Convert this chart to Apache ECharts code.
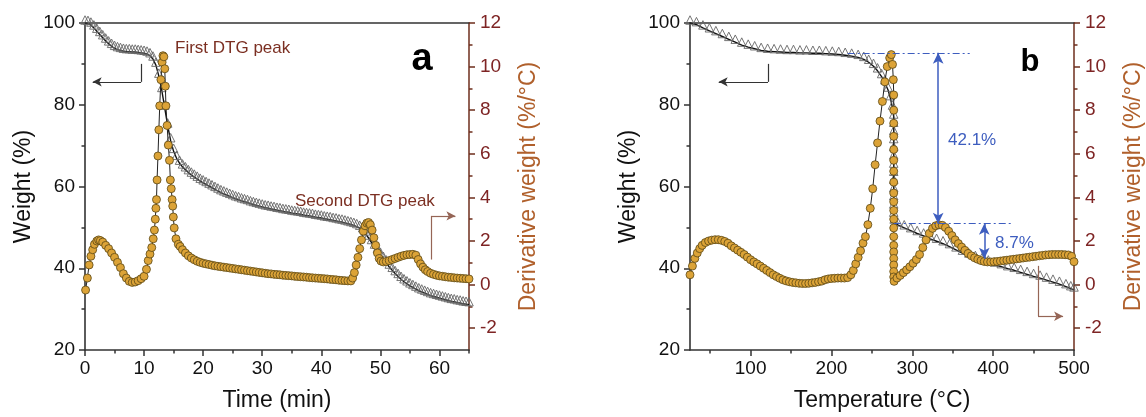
<!DOCTYPE html>
<html><head><meta charset="utf-8">
<script src="https://cdn.jsdelivr.net/npm/echarts@6/dist/echarts.min.js"></script>
<style>html,body{margin:0;padding:0;background:#fff}#c{width:1146px;height:417px}</style>
</head><body><div id="c"></div>
<script>
// ---------- DATA ----------
// Panel a: weight (%) vs time (min)
const tgA = [[0,100.0],[0.5,99.9],[1,99.5],[1.5,98.8],[2,98.0],[2.5,97.2],[3,96.4],[3.5,95.6],[4,94.9],[4.5,94.3],[5,93.8],[5.5,93.5],[6,93.3],[6.5,93.1],[7,93.0],[7.5,93.0],[8,92.9],[8.5,92.9],[9,92.8],[9.5,92.7],[10,92.6],[10.5,92.4],[11,92.0],[11.5,91.2],[12,89.7],[12.5,87.0],[13,83.5],[13.5,79.2],[14,74.8],[14.5,71.2],[15,68.6],[15.5,66.9],[16,65.7],[16.5,64.8],[17,64.1],[17.5,63.4],[18,62.8],[18.5,62.3],[19,61.8],[19.5,61.3],[20,60.9],[20.5,60.5],[21,60.1],[21.5,59.7],[22,59.3],[22.5,58.9],[23,58.5],[23.5,58.2],[24,57.9],[24.5,57.6],[25,57.3],[25.5,57.0],[26,56.8],[26.5,56.5],[27,56.3],[27.5,56.1],[28,55.8],[28.5,55.6],[29,55.4],[29.5,55.2],[30,55.0],[30.5,54.8],[31,54.7],[31.5,54.5],[32,54.4],[32.5,54.2],[33,54.1],[33.5,53.9],[34,53.8],[34.5,53.7],[35,53.5],[35.5,53.4],[36,53.3],[36.5,53.2],[37,53.0],[37.5,52.9],[38,52.8],[38.5,52.7],[39,52.5],[39.5,52.4],[40,52.3],[40.5,52.1],[41,52.0],[41.5,51.9],[42,51.7],[42.5,51.6],[43,51.4],[43.5,51.3],[44,51.1],[44.5,50.9],[45,50.7],[45.5,50.5],[46,50.2],[46.5,49.8],[47,49.2],[47.5,48.4],[48,47.4],[48.5,46.3],[49,45.2],[49.5,44.2],[50,43.2],[50.5,42.2],[51,41.3],[51.5,40.3],[52,39.5],[52.5,38.7],[53,38.0],[53.5,37.3],[54,36.7],[54.5,36.2],[55,35.7],[55.5,35.3],[56,34.9],[56.5,34.5],[57,34.2],[57.5,33.9],[58,33.6],[58.5,33.3],[59,33.1],[59.5,32.9],[60,32.7],[60.5,32.5],[61,32.3],[61.5,32.1],[62,31.9],[62.5,31.8],[63,31.6],[63.5,31.5],[64,31.3],[64.5,31.2],[65,31.1]];
// Panel a: derivative weight (%/°C) vs time (min)
const dtgA = [[0.1,-0.25],[0.4,0.3],[0.7,0.9],[1.0,1.3],[1.3,1.6],[1.6,1.85],[2.0,2.0],[2.3,2.05],[2.6,2.02],[3.0,1.95],[3.5,1.8],[4.0,1.65],[4.5,1.45],[5.0,1.25],[5.5,1.02],[6.0,0.78],[6.5,0.5],[7.0,0.3],[7.5,0.15],[8.0,0.1],[8.5,0.12],[9.0,0.18],[9.5,0.27],[10.0,0.38],[10.4,0.7],[10.7,1.1],[11.0,1.4],[11.3,1.7],[11.55,2.1],[11.75,2.5],[11.9,3.0],[12.0,3.5],[12.1,3.9],[12.2,4.8],[12.35,5.9],[12.5,7.1],[12.65,8.2],[12.85,9.4],[13.05,10.2],[13.2,10.5],[13.35,10.45],[13.5,9.9],[13.6,9.1],[13.7,8.2],[13.9,7.3],[14.1,6.4],[14.3,5.7],[14.45,4.8],[14.6,4.4],[14.75,3.9],[14.85,3.6],[14.95,3.1],[15.1,2.6],[15.4,2.1],[15.8,1.85],[16.1,1.75],[16.5,1.6],[17.0,1.45],[17.5,1.32],[18.0,1.22],[18.5,1.14],[19.0,1.07],[19.5,1.02],[20,0.98],[20.5,0.95],[21,0.92],[21.5,0.89],[22,0.86],[22.5,0.84],[23,0.82],[23.5,0.80],[24,0.78],[24.5,0.76],[25,0.74],[25.5,0.72],[26,0.70],[26.5,0.68],[27,0.66],[27.5,0.64],[28,0.62],[28.5,0.60],[29,0.58],[29.5,0.56],[30,0.54],[30.5,0.52],[31,0.50],[31.5,0.49],[32,0.47],[32.5,0.46],[33,0.45],[33.5,0.43],[34,0.42],[34.5,0.41],[35,0.40],[35.5,0.38],[36,0.37],[36.5,0.36],[37,0.35],[37.5,0.34],[38,0.32],[38.5,0.31],[39,0.30],[39.5,0.29],[40,0.28],[40.5,0.27],[41,0.26],[41.5,0.24],[42,0.23],[42.5,0.22],[43,0.20],[43.5,0.19],[44,0.18],[44.5,0.17],[45,0.17],[45.3,0.3],[45.6,0.55],[45.9,0.9],[46.2,1.25],[46.5,1.65],[46.8,2.05],[47.1,2.45],[47.4,2.7],[47.7,2.82],[48.0,2.85],[48.3,2.75],[48.6,2.5],[48.9,2.15],[49.2,1.8],[49.5,1.45],[49.8,1.2],[50.1,1.08],[50.5,1.04],[51,1.06],[51.5,1.1],[52,1.15],[52.5,1.2],[53,1.25],[53.5,1.3],[54,1.34],[54.5,1.37],[55,1.38],[55.5,1.39],[56,1.35],[56.4,1.15],[56.8,0.95],[57.2,0.8],[57.6,0.68],[58,0.6],[58.5,0.52],[59,0.47],[59.5,0.43],[60,0.40],[60.5,0.38],[61,0.36],[61.5,0.34],[62,0.33],[62.5,0.31],[63,0.30],[63.5,0.29],[64,0.28],[64.5,0.27],[65,0.26]];
// Panel b: weight (%) vs temperature (°C)
const tgB = [[25,100],[33,99.6],[41,98.8],[49,98.1],[57,97.4],[65,96.7],[73,96.0],[81,95.3],[89,94.6],[97,94.1],[105,93.7],[113,93.3],[121,93.1],[129,93.0],[137,92.9],[145,92.8],[153,92.8],[161,92.7],[169,92.7],[177,92.6],[185,92.6],[193,92.5],[201,92.4],[209,92.3],[217,92.1],[225,91.9],[233,91.6],[240,91.1],[246,90.4],[252,89.4],[257,88.3],[262,86.9],[266,85.4],[270,83.6],[273,81.5],[275.5,79.2],[277,77],[277,75],[277,73],[277,71],[277,69],[277,67],[277,65],[277,63],[277,61],[277,59],[277,57],[277,55],[277,53],[277.5,51.3],[282,50.6],[290,49.9],[298,49.2],[306,48.5],[314,47.9],[322,47.2],[330,46.6],[338,46.0],[346,45.3],[354,44.5],[362,43.7],[370,43.0],[378,42.4],[386,41.8],[394,41.3],[402,40.8],[410,40.4],[418,39.9],[426,39.5],[434,39.0],[442,38.5],[450,38.0],[458,37.6],[466,37.1],[474,36.6],[482,36.1],[490,35.5],[496,35.0],[500,34.7]];
// Panel b: derivative weight (%/°C) vs temperature (°C)
const dtgB = [[25,0.45],[28,0.85],[31,1.2],[34,1.45],[37,1.65],[40,1.8],[44,1.93],[48,2.0],[52,2.04],[56,2.06],[60,2.06],[64,2.03],[68,1.98],[72,1.9],[76,1.78],[80,1.68],[84,1.58],[88,1.48],[92,1.38],[96,1.26],[100,1.14],[104,1.04],[108,0.95],[112,0.85],[116,0.75],[120,0.65],[124,0.55],[128,0.45],[132,0.37],[136,0.29],[140,0.22],[144,0.17],[148,0.13],[152,0.1],[156,0.08],[160,0.06],[164,0.05],[168,0.05],[172,0.06],[176,0.08],[180,0.1],[184,0.13],[188,0.16],[192,0.22],[196,0.26],[200,0.28],[204,0.29],[208,0.3],[212,0.3],[216,0.3],[220,0.32],[224,0.45],[227,0.65],[230,0.95],[233,1.25],[236,1.55],[239,1.9],[242,2.2],[245,2.75],[248,3.5],[251,4.4],[254,5.5],[257,6.5],[260,7.5],[263,8.4],[266,9.3],[269,10.0],[272,10.4],[274,10.55],[275.5,10.1],[276.5,9.4],[277,8.7],[277,8.0],[277,7.4],[277,6.8],[277,6.2],[277,5.7],[277,5.2],[277,4.7],[277,4.2],[277,3.8],[277,3.4],[277,3.0],[277,2.6],[277,2.2],[277,1.8],[277,1.5],[277,1.2],[277,0.9],[277,0.6],[277,0.35],[277.5,0.15],[281,0.3],[285,0.42],[289,0.55],[293,0.68],[297,0.82],[301,0.98],[305,1.15],[309,1.38],[313,1.7],[317,2.05],[321,2.35],[325,2.58],[329,2.7],[333,2.74],[337,2.72],[341,2.62],[345,2.45],[349,2.25],[353,2.05],[357,1.88],[361,1.72],[365,1.57],[369,1.43],[373,1.32],[377,1.23],[381,1.16],[385,1.1],[389,1.06],[393,1.04],[397,1.04],[401,1.05],[405,1.06],[409,1.08],[413,1.1],[417,1.12],[421,1.14],[425,1.16],[429,1.18],[433,1.2],[437,1.22],[441,1.24],[445,1.26],[449,1.28],[453,1.3],[457,1.32],[461,1.34],[465,1.36],[469,1.37],[473,1.38],[477,1.38],[481,1.38],[485,1.38],[489,1.37],[493,1.36],[497,1.3],[500,1.05]];

// Tick values
const xMajorA = [0,10,20,30,40,50,60];
const xMinorA = [5,15,25,35,45,55,65];
const xMajorB = [100,200,300,400,500];
const xMinorB = [50,150,250,350,450];
const rMajor = [-2,0,2,4,6,8,10,12];
const rMinor = [-1,1,3,5,7,9,11];

// Annotation values (data units)
const wtTop = 92.7, wtMid = 50.9, wtLow = 42.3;
const lossLabels = ['42.1%','8.7%'];

// ---------- STYLE ----------
const FONT = '"Liberation Sans", Arial, sans-serif';
const AX = '#333333', BR = '#6e2e1c', RLBL = '#7e2424', RTTL = '#b0602c', ANNO = '#7b2f22', BLUE = '#3d5dbf';
const G = [{left:85, top:23, width:384, height:329},{left:690, top:23, width:384, height:329}];

function bottomMajor(grid, min, max, ticks, name){
  return {gridIndex:grid, type:'value', min, max, position:'bottom',
    axisLine:{onZero:false, lineStyle:{color:AX, width:1.6}},
    axisTick:{customValues:ticks, length:6, lineStyle:{color:AX, width:1.5}},
    axisLabel:{customValues:ticks, fontSize:19, color:'#111', margin:9, fontFamily:FONT},
    splitLine:{show:false}, name, nameLocation:'middle', nameGap:39,
    nameTextStyle:{fontSize:23, color:'#111', fontFamily:FONT}};
}
function bottomMinor(grid, min, max, ticks){
  return {gridIndex:grid, type:'value', min, max, position:'bottom',
    axisLine:{show:false, onZero:false}, axisTick:{customValues:ticks, length:3.5, lineStyle:{color:AX, width:1.5}},
    axisLabel:{show:false}, splitLine:{show:false}};
}
function topLine(grid, min, max){
  return {gridIndex:grid, type:'value', min, max, position:'top',
    axisLine:{onZero:false, lineStyle:{color:AX, width:1.6}}, axisTick:{show:false},
    axisLabel:{show:false}, splitLine:{show:false}};
}
function leftAxis(grid){
  return {gridIndex:grid, type:'value', min:20, max:100, interval:20, position:'left',
    axisLine:{show:true, onZero:false, lineStyle:{color:AX, width:1.6}},
    axisTick:{show:true, length:6, lineStyle:{color:AX, width:1.5}},
    minorTick:{show:true, splitNumber:2, length:3.5, lineStyle:{color:AX, width:1.5}},
    axisLabel:{fontSize:19, color:'#111', margin:10, fontFamily:FONT},
    splitLine:{show:false}, minorSplitLine:{show:false},
    name:'Weight (%)', nameLocation:'middle', nameGap:50,
    nameTextStyle:{fontSize:23, color:'#111', fontFamily:FONT}};
}
function rightMajor(grid){
  return {gridIndex:grid, type:'value', min:-3, max:12, position:'right',
    axisLine:{show:true, onZero:false, lineStyle:{color:BR, width:1.5}},
    axisTick:{show:true, customValues:rMajor, length:6, lineStyle:{color:BR, width:1.5}},
    axisLabel:{customValues:rMajor, fontSize:19, color:RLBL, margin:11, fontFamily:FONT},
    splitLine:{show:false},
    name:'Derivative weight (%/°C)', nameLocation:'middle', nameGap:48,
    nameTextStyle:{fontSize:23, color:RTTL, fontFamily:FONT}};
}
function rightMinor(grid){
  return {gridIndex:grid, type:'value', min:-3, max:12, position:'right',
    axisLine:{show:false, onZero:false},
    axisTick:{show:true, customValues:rMinor, length:3.5, lineStyle:{color:BR, width:1.5}},
    axisLabel:{show:false}, splitLine:{show:false}};
}

const tgStyle = {type:'line', symbol:'triangle', symbolSize:8.5, symbolOffset:[0,-3], showAllSymbol:true,
  itemStyle:{color:'rgba(255,255,255,0)', borderColor:'#666666', borderWidth:0.9},
  lineStyle:{color:'#111111', width:1.4}, z:2, silent:true};
const dtgStyle = {type:'line', symbol:'circle', symbolSize:8, showAllSymbol:true,
  itemStyle:{color:'#dca337', borderColor:'#5a4715', borderWidth:0.8},
  lineStyle:{color:'#222', width:1}, z:3, silent:true};

function elbow(x1, y1, y2, x2, color){
  return [
    [{coord:[x1,y1], symbol:'none'},{coord:[x1,y2], symbol:'none', lineStyle:{color, width:1.2, type:'solid'}}],
    [{coord:[x1,y2], symbol:'none'},{coord:[x2,y2], symbol:'arrow', lineStyle:{color, width:1.2, type:'solid'}}]
  ];
}
const mlBase = {silent:true, animation:false, label:{show:false}, symbolSize:[7,9], emphasis:{disabled:true}};

const option = {
  animation:false,
  textStyle:{fontFamily:FONT},
  grid:G,
  xAxis:[
    bottomMajor(0,0,65,xMajorA,'Time (min)'), bottomMinor(0,0,65,xMinorA), topLine(0,0,65),
    bottomMajor(1,25,500,xMajorB,'Temperature (°C)'), bottomMinor(1,25,500,xMinorB), topLine(1,25,500)
  ],
  yAxis:[
    leftAxis(0), rightMajor(0), rightMinor(0),
    leftAxis(1), rightMajor(1), rightMinor(1)
  ],
  series:[
    Object.assign({}, tgStyle, {xAxisIndex:0, yAxisIndex:0, data:tgA,
      markLine:Object.assign({}, mlBase, {data:elbow(9.5,90.0,85.6,1.3,'#333')})}),
    Object.assign({}, dtgStyle, {xAxisIndex:0, yAxisIndex:1, data:dtgA,
      markLine:Object.assign({}, mlBase, {data:elbow(58.6,1.15,3.15,62.7,'#956556')})}),
    Object.assign({}, tgStyle, {xAxisIndex:3, yAxisIndex:3, data:tgB,
      markLine:Object.assign({}, mlBase, {data:[].concat(
        elbow(121.5,90.0,85.6,60.5,'#333'),
        [
          [{coord:[220,wtTop], symbol:'none'},{coord:[371,wtTop], symbol:'none', lineStyle:{color:BLUE, width:1.2, type:[7,3,2,3]}}],
          [{coord:[277,wtMid], symbol:'none'},{coord:[423,wtMid], symbol:'none', lineStyle:{color:BLUE, width:1.2, type:[7,3,2,3]}}],
          [{coord:[332,wtTop], symbol:'arrow', symbolSize:[8,11]},{coord:[332,wtMid], symbol:'arrow', symbolSize:[8,11], lineStyle:{color:BLUE, width:1.5, type:'solid'}}],
          [{coord:[389,wtMid], symbol:'arrow', symbolSize:[8,11]},{coord:[389,wtLow], symbol:'arrow', symbolSize:[8,11], lineStyle:{color:BLUE, width:1.5, type:'solid'}}]
        ])})}),
    Object.assign({}, dtgStyle, {xAxisIndex:3, yAxisIndex:4, data:dtgB,
      markLine:Object.assign({}, mlBase, {data:elbow(455.5,0.86,-1.45,486.5,'#956556')})})
  ],
  graphic:[
    {type:'text', x:175, y:48.5, silent:true, style:{text:'First DTG peak', fill:ANNO, fontSize:17, fontFamily:FONT, verticalAlign:'middle', align:'left'}},
    {type:'text', x:295, y:201, silent:true, style:{text:'Second DTG peak', fill:ANNO, fontSize:17, fontFamily:FONT, verticalAlign:'middle', align:'left'}},
    {type:'text', x:422, y:60, silent:true, style:{text:'a', fill:'#000', fontSize:38, fontWeight:'bold', fontFamily:FONT, verticalAlign:'middle', align:'center'}},
    {type:'text', x:1030, y:62.5, silent:true, style:{text:'b', fill:'#000', fontSize:31, fontWeight:'bold', fontFamily:FONT, verticalAlign:'middle', align:'center'}},
    {type:'text', x:948, y:140, silent:true, style:{text:lossLabels[0], fill:BLUE, fontSize:17, fontFamily:FONT, verticalAlign:'middle', align:'left'}},
    {type:'text', x:995, y:243.5, silent:true, style:{text:lossLabels[1], fill:BLUE, fontSize:17, fontFamily:FONT, verticalAlign:'middle', align:'left'}}
  ]
};
const chart = echarts.init(document.getElementById('c'), null, {renderer:'canvas'});
chart.setOption(option);
</script></body></html>
